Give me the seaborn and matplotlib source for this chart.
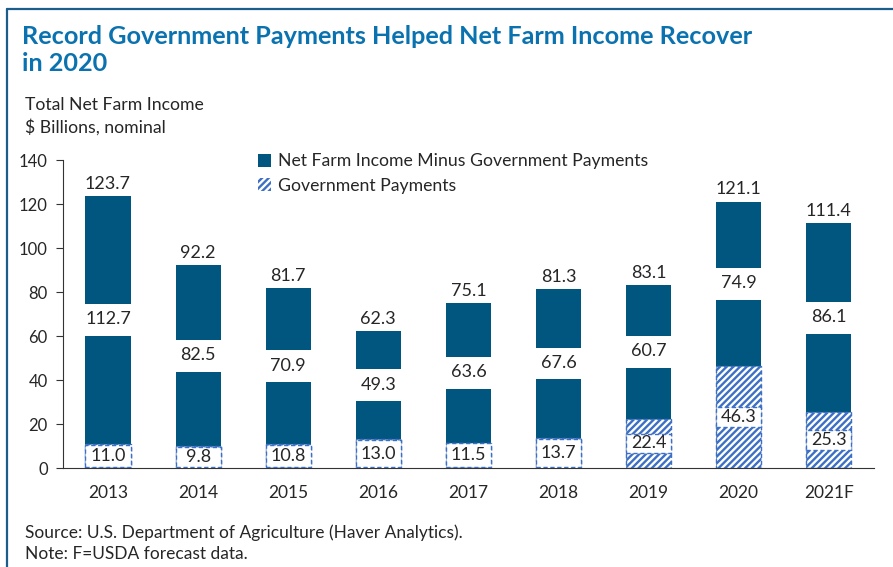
import matplotlib
matplotlib.use("Agg")
import matplotlib.pyplot as plt
from matplotlib.patches import Rectangle, Patch
from matplotlib.lines import Line2D
import seaborn as sns
import pandas as pd

years = ["2013", "2014", "2015", "2016", "2017", "2018", "2019", "2020", "2021F"]
net_minus_gov = [112.7, 82.5, 70.9, 49.3, 63.6, 67.6, 60.7, 74.9, 86.1]
gov_payments = [11.0, 9.8, 10.8, 13.0, 11.5, 13.7, 22.4, 46.3, 25.3]
total_income = [123.7, 92.2, 81.7, 62.3, 75.1, 81.3, 83.1, 121.1, 111.4]
y_ticks = [0, 20, 40, 60, 80, 100, 120, 140]

DARK = "#00567f"
HATCH = "#3d6fc4"
TITLE = "#0b72b0"
TXT = "#262626"
HPAT = "/////"

sns.set_style("white")
plt.rcParams["font.family"] = ["Lato", "DejaVu Sans"]
plt.rcParams["hatch.linewidth"] = 1.7
plt.rcParams["hatch.color"] = HATCH

df = pd.DataFrame({"year": years, "net": net_minus_gov, "gov": gov_payments, "total": total_income})

fig = plt.figure(figsize=(8.93, 5.67), dpi=100)
ax = fig.add_axes([0.0705, 0.1746, 0.908, 0.5432])

sns.barplot(data=df, x="year", y="total", color=DARK, width=0.5, ax=ax,
            saturation=1, edgecolor="none", linewidth=0)
n_tot = len(ax.patches)
sns.barplot(data=df, x="year", y="gov", color="white", width=0.5, ax=ax,
            saturation=1, edgecolor=HATCH, linewidth=1.0, linestyle=(0, (3, 2)),
            hatch=HPAT)
tot_bars = ax.patches[:n_tot]
gov_bars = ax.patches[n_tot:]
for b in gov_bars:
    b.set_facecolor("white")
    b.set_edgecolor(HATCH)
    b.set_hatch(HPAT)

FS = 13
for i, (b, g, nm, t) in enumerate(zip(tot_bars, gov_payments, net_minus_gov, total_income)):
    x0 = b.get_x()
    w = b.get_width()
    xc = x0 + w / 2
    ax.annotate(f"{t:.1f}", (xc, t), xytext=(0, 3), textcoords="offset points",
                ha="center", va="bottom", fontsize=FS, color=TXT)
    c = g + nm / 2
    gh = 14.5
    ax.add_patch(Rectangle((x0 - 0.01, c - gh / 2), w + 0.02, gh, facecolor="white",
                           edgecolor="none", zorder=3))
    ax.text(xc, c + 0.3, f"{nm:.1f}", ha="center", va="center", fontsize=FS,
            color=TXT, zorder=4)
    gc = g / 2
    bh = g - 0.7 if g < 15 else 8.8
    ax.add_patch(Rectangle((x0, gc - bh / 2), w, bh, facecolor="white",
                           edgecolor=HATCH, linewidth=1.0, linestyle=(0, (3, 2)), zorder=3))
    ax.text(xc, gc, f"{g:.1f}", ha="center", va="center", fontsize=FS,
            color=TXT, zorder=4)

ax.set_xlim(-0.5, len(years) - 0.5)
ax.set_ylim(0, 140)
ax.set_yticks(y_ticks)
ax.set_yticklabels([str(v) for v in y_ticks])
ax.set_xlabel("")
ax.set_ylabel("")
ax.set_xticks(range(len(years)))
ax.set_xticklabels(years)
ax.set_xticks([i - 0.5 for i in range(len(years) + 1)], minor=True)
ax.tick_params(axis="x", which="major", length=0, pad=12, labelsize=12.5, labelcolor=TXT)
ax.tick_params(axis="x", which="minor", length=6, width=0.8, color="#333333", direction="out")
ax.tick_params(axis="y", length=5, width=0.8, color="#333333", direction="out",
               labelsize=12, labelcolor=TXT, pad=6, left=True)
for s in ["top", "right"]:
    ax.spines[s].set_visible(False)
for s in ["left", "bottom"]:
    ax.spines[s].set_color("#333333")
    ax.spines[s].set_linewidth(0.8)
ax.grid(False)

handles = [Patch(facecolor=DARK, edgecolor="none"),
           Patch(facecolor="white", edgecolor=HATCH, hatch=HPAT, linewidth=0)]
leg = ax.legend(handles, ["Net Farm Income Minus Government Payments", "Government Payments"],
                loc="upper left", bbox_to_anchor=(0.232, 1.045), frameon=False,
                fontsize=12.7, handlelength=0.75, handleheight=0.75, handletextpad=0.35,
                labelspacing=0.5, borderaxespad=0)
for t in leg.get_texts():
    t.set_color(TXT)

fig.text(0.0246, 1 - 25 / 567, "Record Government Payments Helped Net Farm Income Recover\nin 2020",
         ha="left", va="top", fontsize=18.2, fontweight="bold", color=TITLE, linespacing=1.2)
fig.text(0.028, 1 - 97 / 567, "Total Net Farm Income\n$ Billions, nominal",
         ha="left", va="top", fontsize=12.7, color=TXT, linespacing=1.42)
fig.text(0.028, 1 - 524 / 567, "Source: U.S. Department of Agriculture (Haver Analytics).\nNote: F=USDA forecast data.",
         ha="left", va="top", fontsize=12.5, color=TXT, linespacing=1.45)

fig.add_artist(Line2D([0.008, 1.0], [1 - 9 / 567, 1 - 9 / 567], transform=fig.transFigure,
                      color="#1b5e8c", linewidth=1.6))
fig.add_artist(Line2D([0.008, 0.008], [0.0, 1 - 9 / 567], transform=fig.transFigure,
                      color="#1b5e8c", linewidth=1.6))

fig.savefig("out.png", dpi=100)
